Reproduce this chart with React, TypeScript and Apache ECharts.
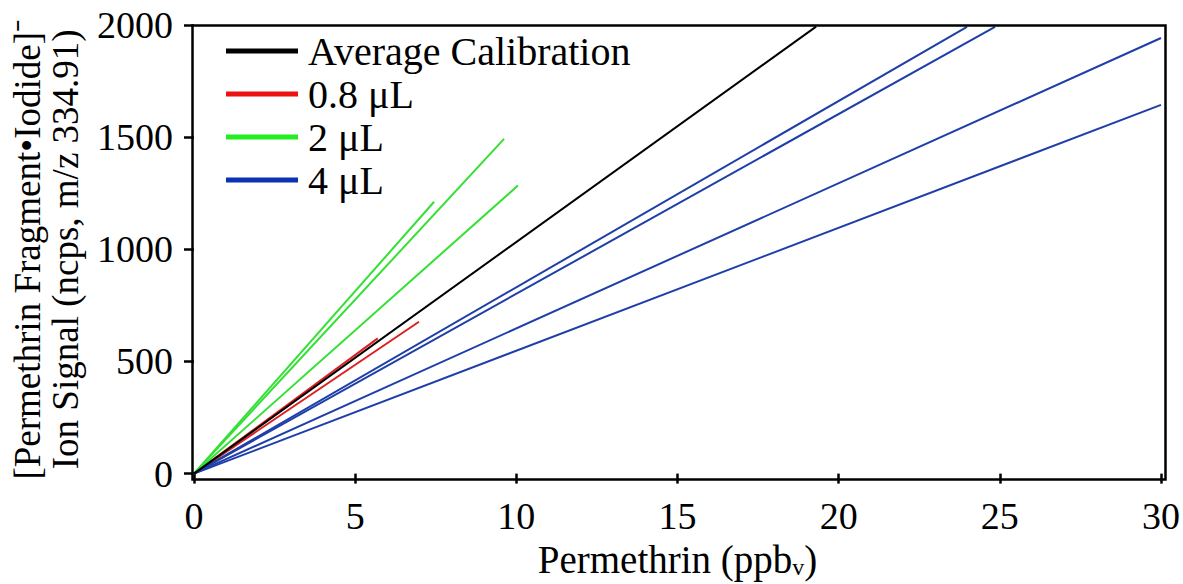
import React, { useEffect, useRef } from "react";
import * as echarts from "echarts";

const xTicks = [0, 5, 10, 15, 20, 25, 30];
const yTicks = [0, 500, 1000, 1500, 2000];

const seriesNames = ["Average Calibration", "0.8 μL", "2 μL", "4 μL"];
const seriesColors = ["#000000", "#dd1f1f", "#33e033", "#1f3fa8"];
const legendColors = ["#000000", "#ee1111", "#22ee22", "#0a32b4"];

// end points of calibration lines (all start at origin)
const avgEnds = [[19.3, 1993]];
const redEnds = [[5.7, 603], [6.98, 677]];
const greenEnds = [[7.45, 1212], [9.62, 1492], [10.05, 1284]];
const blueEnds = [[23.98, 1992], [24.85, 1992], [30, 1942], [30, 1644]];

const groups = [avgEnds, redEnds, greenEnds, blueEnds];

const FONT = "'Liberation Serif', 'Times New Roman', serif";

export default function App() {
  const ref = useRef<HTMLDivElement>(null);
  useEffect(() => {
    if (!ref.current) return;
    const chart = echarts.init(ref.current, undefined, { renderer: "svg" });
    const series: any[] = [];
    groups.forEach((g, gi) => {
      g.forEach((end) => {
        series.push({
          type: "line",
          name: seriesNames[gi],
          data: [[0, 0], end],
          showSymbol: false,
          symbol: "none",
          color: seriesColors[gi],
          lineStyle: { width: 2, color: seriesColors[gi] },
          z: gi === 0 ? 3 : 2,
        });
      });
    });
    chart.setOption({
      animation: false,
      backgroundColor: "#ffffff",
      grid: { left: 194, right: 22, top: 25, bottom: 110 },
      legend: {
        orient: "vertical",
        left: 221,
        top: 26,
        itemWidth: 72,
        itemHeight: 5,
        itemGap: 3,
        icon: "rect",
        data: seriesNames.map((n, i) => ({ name: n, itemStyle: { color: legendColors[i] } })),
        textStyle: { fontFamily: FONT, fontSize: 40, color: "#000", padding: [0, 0, 0, 5] },
      },
      xAxis: {
        type: "value",
        min: xTicks[0],
        max: xTicks[xTicks.length - 1],
        interval: xTicks[1] - xTicks[0],
        offset: 3,
        axisLine: { show: false },
        axisTick: { show: true, length: 10, lineStyle: { color: "#000", width: 2.5 } },
        splitLine: { show: false },
        axisLabel: {
          fontFamily: FONT,
          fontSize: 38,
          color: "#000",
          margin: 20,
          formatter: (v: number) => String(v),
        },
        name: "Permethrin (ppb{sub|v})",
        nameLocation: "middle",
        nameGap: 62,
        nameTextStyle: {
          fontFamily: FONT,
          fontSize: 39,
          color: "#000",
          rich: {
            sub: { fontFamily: FONT, fontSize: 24, color: "#000", padding: [16, 0, 0, 0] },
          },
        },
      },
      yAxis: {
        type: "value",
        min: yTicks[0],
        max: yTicks[yTicks.length - 1],
        interval: yTicks[1] - yTicks[0],
        offset: 4,
        axisLine: { show: false },
        axisTick: { show: true, length: 10, lineStyle: { color: "#000", width: 2.5 } },
        splitLine: { show: false },
        axisLabel: {
          fontFamily: FONT,
          fontSize: 38,
          color: "#000",
          margin: 17,
          formatter: (v: number) => String(v),
        },
        name: "[Permethrin Fragment•Iodide]⁻\nIon Signal (ncps, m/z 334.91)",
        nameLocation: "middle",
        nameRotate: 90,
        nameGap: 106,
        nameTextStyle: { fontFamily: FONT, fontSize: 37, color: "#000", lineHeight: 38 },
      },
      graphic: [
        {
          type: "rect",
          left: 190,
          top: 23,
          shape: { x: 0, y: 0, width: 973, height: 454 },
          style: { fill: "none", stroke: "#000", lineWidth: 2.5 },
          silent: true,
          z: 10,
        },
      ],
      series,
    });
    return () => chart.dispose();
  }, []);
  return <div ref={ref} style={{ width: 1183, height: 584, position: "absolute", left: 0, top: 0 }} />;
}
